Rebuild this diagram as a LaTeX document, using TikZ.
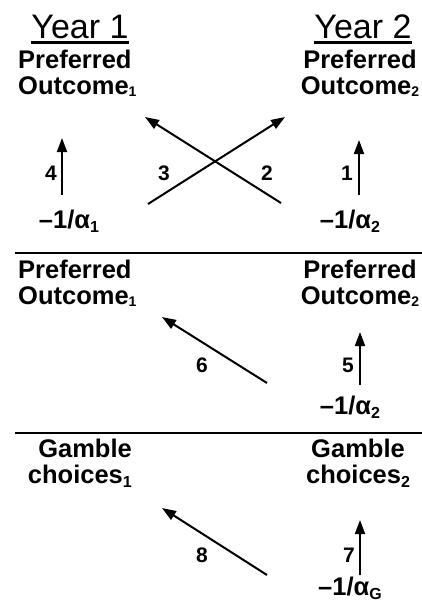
\documentclass[tikz,border=0pt]{standalone}
\usepackage{fontspec}
\setmainfont{Liberation Sans}
\usepackage{tikz}
\usetikzlibrary{arrows.meta}
\newcommand{\osub}[1]{\raisebox{-2pt}{\fontsize{14}{14}\selectfont #1}}
\newcommand{\asub}[1]{\raisebox{-4pt}{\fontsize{16}{16}\selectfont #1}}
\tikzset{
  yrtitle/.style={font=\fontsize{34}{38}\selectfont, inner sep=0pt, anchor=base},
  yrline/.style={line width=2.2pt, draw=black, line cap=butt},
  outtxt/.style={font=\bfseries\fontsize{25.5}{30}\selectfont, inner sep=0pt},
  numtxt/.style={font=\bfseries\fontsize{21}{24}\selectfont, inner sep=0pt},
  divide/.style={line width=2pt, draw=black, line cap=butt},
  pathln/.style={line width=2pt, draw=black, -{Triangle[length=14pt,width=10pt]}},
}

\begin{document}
\begin{tikzpicture}[x=1pt,y=-1pt]
\useasboundingbox (0,0) rectangle (422,605);
\node[yrtitle] (yr1) at (80,38) {Year 1};
\node[yrtitle] (yr2) at (363,38) {Year 2};
\draw[yrline] ([yshift=-4.5pt]yr1.base west) -- ([yshift=-4.5pt]yr1.base east);
\draw[yrline] ([yshift=-4.5pt]yr2.base west) -- ([yshift=-4.5pt]yr2.base east);
% preferred outcome, first panel
\node[outtxt, anchor=base west] (pref1a) at (18,68) {Preferred};
\node[outtxt, anchor=base west] (out1a) at (18,94) {Outcome\osub{1}};
\node[outtxt, anchor=base] (pref2a) at (360,68) {Preferred};
\node[outtxt, anchor=base] (out2a) at (360,94) {Outcome\osub{2}};
\node[outtxt, anchor=base] (alf1) at (69,228) {–1/α\asub{1}};
\node[outtxt, anchor=base] (alf2) at (350,228) {–1/α\asub{2}};
\draw[pathln, shorten >=44pt] ([xshift=-7pt,yshift=33pt]alf1.base) -- ([xshift=-7pt]alf1.base |- out1a.base);
\draw[pathln, shorten >=46pt] ([xshift=9pt,yshift=33pt]alf2.base) -- ([xshift=9pt]alf2.base |- out2a.base);
\draw[pathln] ([xshift=79pt,yshift=24pt]alf1.base) -- ([xshift=-75pt,yshift=-23pt]out2a.base);
\draw[pathln] ([xshift=-69pt,yshift=25pt]alf2.base) -- ([xshift=127pt,yshift=-23pt]out1a.base west);
\node[numtxt] (p4) at (51,173) {4};
\node[numtxt] (p3) at (164,173) {3};
\node[numtxt] (p2) at (267,173) {2};
\node[numtxt] (p1) at (347,173) {1};
\draw[divide] (15,253) -- (422,253);
% preferred outcome, second panel
\node[outtxt, anchor=base west] (pref1b) at (18,278) {Preferred};
\node[outtxt, anchor=base west] (out1b) at (18,304) {Outcome\osub{1}};
\node[outtxt, anchor=base] (pref2b) at (360,278) {Preferred};
\node[outtxt, anchor=base] (out2b) at (360,304) {Outcome\osub{2}};
\node[outtxt, anchor=base] (alf2b) at (350,414) {–1/α\asub{2}};
\draw[pathln] ([xshift=-83pt,yshift=31pt]alf2b.base) -- ([xshift=144pt,yshift=-13pt]out1b.base west);
\draw[pathln, shorten >=28pt] ([xshift=10pt,yshift=29pt]alf2b.base) -- ([xshift=10pt]alf2b.base |- out2b.base);
\node[numtxt] (p6) at (202,365) {6};
\node[numtxt] (p5) at (348,365) {5};
\draw[divide] (15,433) -- (422,433);
% gamble choices
\node[outtxt, anchor=base east] (gam1) at (132,457) {Gamble};
\node[outtxt, anchor=base east] (cho1) at (132,483) {choices\asub{1}};
\node[outtxt, anchor=base] (gam2) at (358,457) {Gamble};
\node[outtxt, anchor=base] (cho2) at (358,483) {choices\asub{2}};
\node[outtxt, anchor=base] (alfG) at (350,595) {–1/α\asub{G}};
\draw[pathln] ([xshift=-83pt,yshift=20pt]alfG.base) -- ([xshift=30pt,yshift=-25pt]cho1.base east);
\draw[pathln, shorten >=37pt] ([xshift=10pt,yshift=20pt]alfG.base) -- ([xshift=10pt]alfG.base |- cho2.base);
\node[numtxt] (p8) at (202,555) {8};
\node[numtxt] (p7) at (349,555) {7};
\end{tikzpicture}
\end{document}
